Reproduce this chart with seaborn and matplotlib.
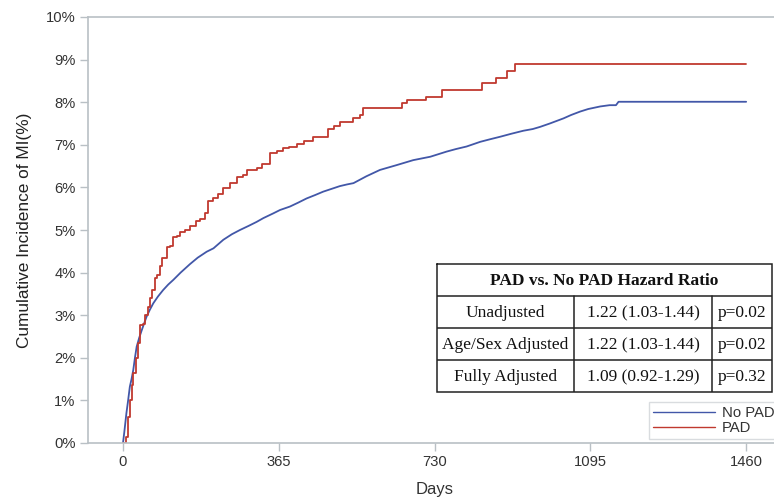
import matplotlib
matplotlib.use("Agg")
import matplotlib.pyplot as plt
import seaborn as sns
import pandas as pd

# ---- data ----
pad_days = [0, 5, 8, 12, 16, 20, 24, 30, 36, 40, 46, 51, 59, 64, 67, 75, 80, 86, 91,
            102, 110, 118, 126, 134, 145, 157, 170, 180, 192, 200, 212, 223, 235, 250,
            266, 280, 290, 313, 325, 344, 360, 376, 390, 407, 425, 446, 481, 495, 508,
            540, 555, 563, 653, 665, 711, 747, 840, 875, 899, 919, 1460]
pad_pct = [0, 0.0, 0.15, 0.6, 1.0, 1.35, 1.64, 2.0, 2.34, 2.77, 2.8, 3.0, 3.2, 3.4, 3.59,
           3.87, 3.95, 4.15, 4.34, 4.6, 4.62, 4.84, 4.86, 4.96, 5.0, 5.1, 5.2, 5.25, 5.4,
           5.67, 5.75, 5.85, 5.98, 6.1, 6.25, 6.3, 6.41, 6.45, 6.55, 6.8, 6.85, 6.92, 6.95,
           7.03, 7.1, 7.19, 7.38, 7.45, 7.54, 7.62, 7.7, 7.86, 7.97, 8.05, 8.13, 8.29, 8.44,
           8.56, 8.74, 8.9, 8.9]

nopad_days = [0, 3, 8, 12, 16, 20, 24, 28, 32, 38, 44, 50, 55, 63, 71, 82, 94, 106, 118,
              135, 157, 175, 196, 212, 235, 255, 274, 295, 313, 329, 352, 368, 391, 410,
              430, 450, 469, 490, 508, 525, 540, 570, 602, 640, 680, 720, 758, 780, 805,
              837, 860, 884, 910, 938, 960, 977, 1000, 1032, 1050, 1071, 1090, 1118, 1140,
              1155, 1161, 1460]
nopad_pct = [0, 0.25, 0.7, 1.0, 1.32, 1.5, 1.71, 2.0, 2.26, 2.47, 2.65, 2.82, 2.96, 3.13,
             3.28, 3.44, 3.59, 3.72, 3.83, 4.0, 4.2, 4.35, 4.49, 4.57, 4.77, 4.9, 5.0, 5.1,
             5.19, 5.28, 5.39, 5.47, 5.55, 5.64, 5.74, 5.82, 5.9, 5.97, 6.03, 6.07, 6.1,
             6.26, 6.41, 6.52, 6.64, 6.72, 6.84, 6.9, 6.96, 7.07, 7.13, 7.19, 7.26, 7.33,
             7.37, 7.42, 7.5, 7.62, 7.7, 7.78, 7.84, 7.9, 7.93, 7.93, 8.01, 8.01]

x_ticks = [0, 365, 730, 1095, 1460]
y_ticks = list(range(0, 11))

table_title = "PAD vs. No PAD Hazard Ratio"
table_models = ["Unadjusted", "Age/Sex Adjusted", "Fully Adjusted"]
table_hr = ["1.22 (1.03-1.44)", "1.22 (1.03-1.44)", "1.09 (0.92-1.29)"]
table_p = ["p=0.02", "p=0.02", "p=0.32"]

colors = {"No PAD": "#4257a8", "PAD": "#c0392f"}

# ---- plot ----
sns.set_theme(style="white")
plt.rcParams["font.family"] = ["Liberation Sans", "DejaVu Sans"]

W, H = 774, 504
fig = plt.figure(figsize=(W / 100, H / 100), dpi=100)
ax_right_px = 782
ax = fig.add_axes([88 / W, 1 - 443 / H, (ax_right_px - 88) / W, (443 - 17) / H])

df_nopad = pd.DataFrame({"Days": nopad_days, "Pct": nopad_pct})
df_pad = pd.DataFrame({"Days": pad_days, "Pct": pad_pct})

sns.lineplot(data=df_nopad, x="Days", y="Pct", color=colors["No PAD"], lw=1.3,
             ax=ax, label="No PAD", estimator=None, sort=False)
sns.lineplot(data=df_pad, x="Days", y="Pct", color=colors["PAD"], lw=1.3,
             ax=ax, label="PAD", estimator=None, sort=False, drawstyle="steps-post")

ax.set_xlim(-82, 1544)
ax.set_ylim(0, 10)
ax.set_xticks(x_ticks)
ax.set_xticklabels([str(t) for t in x_ticks])
ax.set_yticks(y_ticks)
ax.set_yticklabels([f"{t}%" for t in y_ticks])

spine_c = "#b9c0c5"
for s in ["left", "bottom", "top"]:
    ax.spines[s].set_visible(True)
    ax.spines[s].set_color(spine_c)
    ax.spines[s].set_linewidth(1.2)
ax.spines["right"].set_visible(False)
ax.tick_params(axis="both", which="major", direction="out", length=6, width=1.0,
               color=spine_c, labelsize=10.6, labelcolor="#333333", pad=3,
               bottom=True, left=True)
ax.set_xlabel("Days", fontsize=12, color="#333333", labelpad=9)
ax.set_ylabel("Cumulative Incidence of MI(%)", fontsize=12.4, color="#222222", labelpad=10)

leg = ax.legend(loc="upper left", bbox_to_anchor=(649 / W, 1 - 402 / H),
                bbox_transform=fig.transFigure, frameon=True, fancybox=False,
                fontsize=10.7, handlelength=4.2, handletextpad=0.45, labelspacing=0.1,
                borderpad=0.25, borderaxespad=0)
leg.get_frame().set_edgecolor("#d0d4d8")
leg.get_frame().set_linewidth(1.0)
for t in leg.get_texts():
    t.set_color("#333333")
for l in leg.get_lines():
    l.set_linewidth(1.0)

# ---- hazard ratio table ----
tx0, tx1, ty0, ty1 = 437, 772, 264, 392
tax = fig.add_axes([tx0 / W, 1 - ty1 / H, (tx1 - tx0) / W, (ty1 - ty0) / H])
tax.set_xlim(tx0, tx1)
tax.set_ylim(ty1, ty0)
tax.axis("off")
tax.fill_between([tx0, tx1], ty0, ty1, color="white", zorder=0)
cols = [437, 574, 712, 772]
rows = [264, 296, 328, 360, 392]
lc, lw = "#222222", 1.1
tax.plot([tx0, tx1, tx1, tx0, tx0], [ty0, ty0, ty1, ty1, ty0], color=lc, lw=lw,
         solid_joinstyle="miter", clip_on=False)
for r in rows[1:-1]:
    tax.plot([tx0, tx1], [r, r], color=lc, lw=lw)
for c in cols[1:-1]:
    tax.plot([c, c], [rows[1], rows[-1]], color=lc, lw=lw)

serif = ["Liberation Serif", "DejaVu Serif"]
fs = 12.5
tax.text((tx0 + tx1) / 2, (rows[0] + rows[1]) / 2 + 1, table_title, ha="center",
         va="center", fontsize=fs, fontweight="bold", family=serif, color="#111111")
for i in range(3):
    yc = (rows[i + 1] + rows[i + 2]) / 2 + 1
    tax.text((cols[0] + cols[1]) / 2, yc, table_models[i], ha="center", va="center",
             fontsize=fs, family=serif, color="#111111")
    tax.text((cols[1] + cols[2]) / 2, yc, table_hr[i], ha="center", va="center",
             fontsize=fs, family=serif, color="#111111")
    tax.text((cols[2] + cols[3]) / 2, yc, table_p[i], ha="center", va="center",
             fontsize=fs, family=serif, color="#111111")

fig.savefig("out.png", dpi=100)
